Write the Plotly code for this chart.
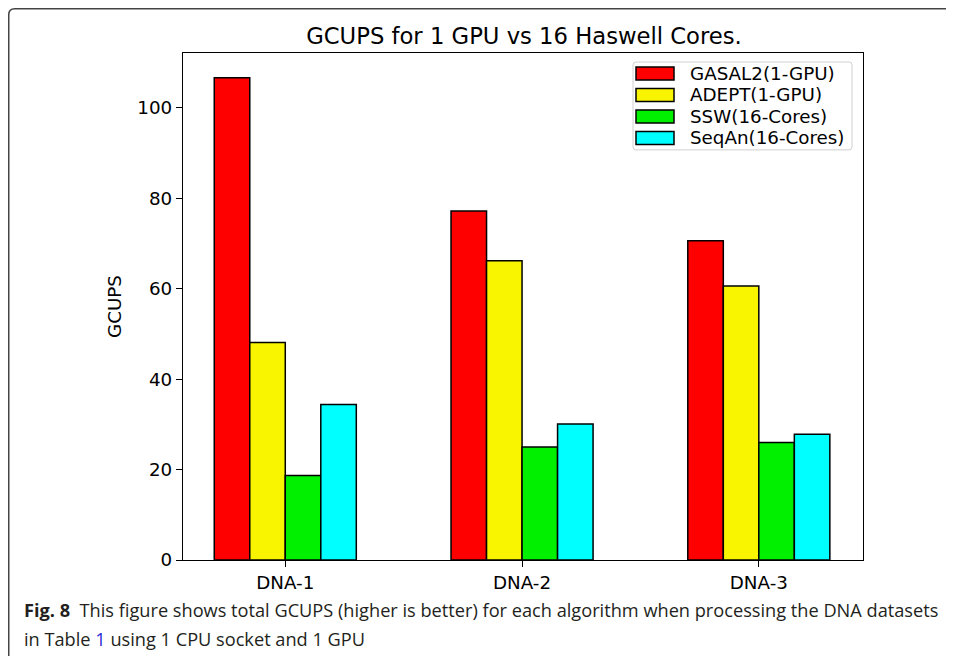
import plotly.graph_objects as go

categories = ["DNA-1", "DNA-2", "DNA-3"]
series_names = ["GASAL2(1-GPU)", "ADEPT(1-GPU)", "SSW(16-Cores)", "SeqAn(16-Cores)"]
gasal2 = [106.7, 77.2, 70.6]
adept = [48.1, 66.2, 60.6]
ssw = [18.7, 25.0, 26.0]
seqan = [34.4, 30.1, 27.8]
colors = ["#ff0000", "#f9f500", "#00f000", "#00ffff"]
yticks = [0, 20, 40, 60, 80, 100]

OFF = 8  # page body margin
W, H = 954 - 2 * OFF, 664 - 2 * OFF
# plot area in screen pixels
SL, SR, ST, SB = 183, 863, 53, 560.5
L, R, T, B = SL - OFF, SR - OFF, ST - OFF, SB - OFF

def px(x):  # screen x -> paper
    return (x - OFF - L) / (R - L)

def py(y):  # screen y -> paper
    return (B - (y - OFF)) / (B - T)

FS = 18.3
fig = go.Figure()
xs = list(range(len(categories)))
for name, vals, c in zip(series_names, [gasal2, adept, ssw, seqan], colors):
    fig.add_trace(go.Bar(x=xs, y=vals, name=name,
                         marker=dict(color=c, line=dict(color="black", width=1.5)),
                         showlegend=False))

fig.update_layout(
    width=W, height=H,
    margin=dict(l=L, r=W - R, t=T, b=H - B),
    paper_bgcolor="white", plot_bgcolor="white",
    barmode="group", bargap=0.4, bargroupgap=0,
    font=dict(family="DejaVu Sans", color="black", size=FS),
    title=dict(text="GCUPS for 1 GPU vs 16 Haswell Cores.", x=px(524), xanchor="center",
               xref="paper", y=1 - (36 - OFF) / H, yanchor="middle", yref="container",
               font=dict(size=22.7, family="DejaVu Sans", color="black")),
    xaxis=dict(range=[-0.432, 2.44], tickmode="array", tickvals=xs, ticktext=categories,
               showline=True, linecolor="black", linewidth=1.3, mirror=True,
               ticks="outside", ticklen=6, tickwidth=1.2, tickcolor="black",
               showgrid=False, zeroline=False, tickfont=dict(size=FS)),
    yaxis=dict(range=[0, (SB - ST) / 4.525], tickvals=yticks, showline=True, linecolor="black",
               linewidth=1.3, mirror=True, ticks="outside", ticklen=6, tickwidth=1.2,
               tickcolor="black", showgrid=False, zeroline=False, tickfont=dict(size=FS),
               title=dict(text="GCUPS", font=dict(size=FS), standoff=10)),
)

shapes = []
annotations = []

# legend box (matplotlib-like, rounded corners)
x0, x1, y0, y1, r = 633, 852, 62, 150, 3
box = (f"M {px(x0 + r)},{py(y0)} L {px(x1 - r)},{py(y0)} Q {px(x1)},{py(y0)} {px(x1)},{py(y0 + r)} "
       f"L {px(x1)},{py(y1 - r)} Q {px(x1)},{py(y1)} {px(x1 - r)},{py(y1)} "
       f"L {px(x0 + r)},{py(y1)} Q {px(x0)},{py(y1)} {px(x0)},{py(y1 - r)} "
       f"L {px(x0)},{py(y0 + r)} Q {px(x0)},{py(y0)} {px(x0 + r)},{py(y0)} Z")
shapes.append(dict(type="path", xref="paper", yref="paper", path=box,
                   line=dict(color="#d0d0d0", width=1), fillcolor="rgba(255,255,255,0.8)",
                   layer="above"))
row_centers = [73.5, 95, 116.5, 138]
for name, c, yc in zip(series_names, colors, row_centers):
    shapes.append(dict(type="rect", xref="paper", yref="paper", x0=px(636), x1=px(674),
                       y0=py(yc + 6.5), y1=py(yc - 6.5), fillcolor=c,
                       line=dict(color="black", width=1.5), layer="above"))
    annotations.append(dict(text=name, xref="paper", yref="paper", x=px(688), y=py(yc),
                            xanchor="left", yanchor="middle", showarrow=False,
                            font=dict(size=FS, family="DejaVu Sans", color="black")))

# outer journal frame (rounded top-left corner, open to right and bottom)
fx, fy = 8.75, 8.75
frame = (f"M {px(fx)},{py(700)} L {px(fx)},{py(fy + 6)} Q {px(fx)},{py(fy)} {px(fx + 6)},{py(fy)} "
         f"L {px(1000)},{py(fy)}")
shapes.append(dict(type="path", xref="paper", yref="paper", path=frame,
                   line=dict(color="#444444", width=1.5)))

# caption
cap_font = dict(size=18.2, family="Open Sans", color="#231f20")
annotations.append(dict(text="<b>Fig. 8</b>  This figure shows total GCUPS (higher is better) for each algorithm when processing the DNA datasets",
                        xref="paper", yref="paper", x=px(22), y=py(611), xanchor="left",
                        yanchor="middle", showarrow=False, font=cap_font))
annotations.append(dict(text='in Table <span style="color:#2b2bd8">1</span> using 1 CPU socket and 1 GPU',
                        xref="paper", yref="paper", x=px(22), y=py(640), xanchor="left",
                        yanchor="middle", showarrow=False, font=cap_font))

fig.update_layout(shapes=shapes, annotations=annotations)
fig.write_html("out.html")
